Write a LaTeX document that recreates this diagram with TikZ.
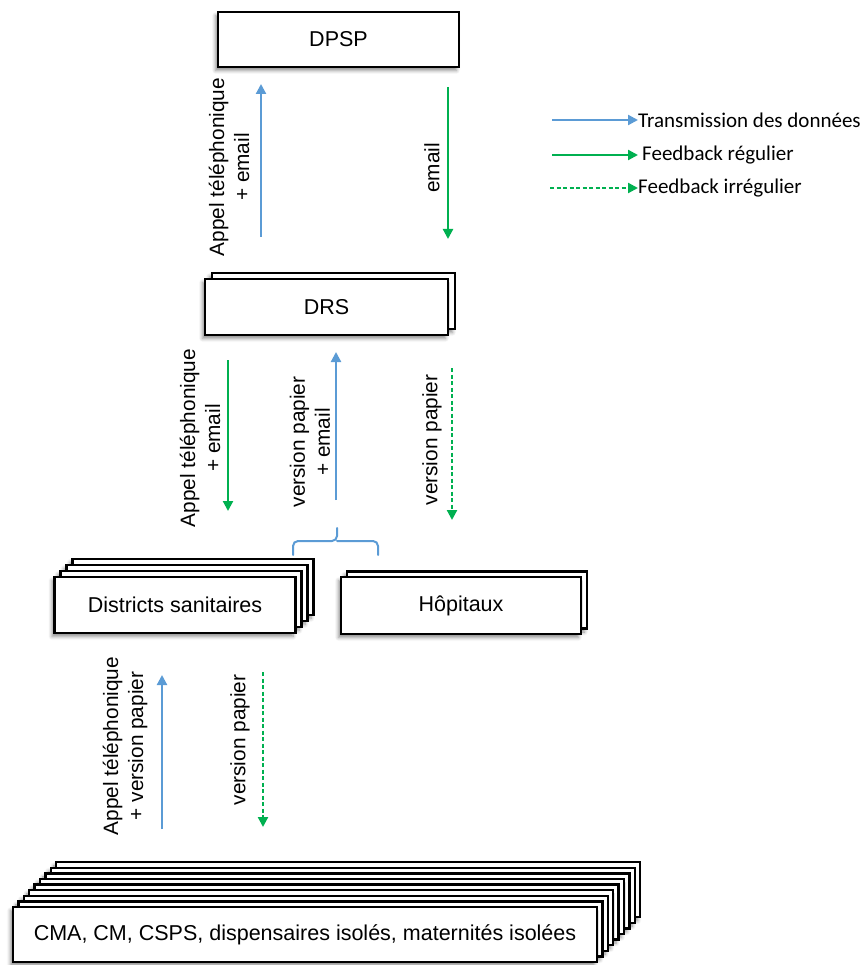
\documentclass[tikz,border=0pt]{standalone}
\usepackage{fontspec}
\setmainfont{Liberation Sans}
\newfontfamily\legendfont{Carlito}
\usetikzlibrary{arrows.meta,shadows.blur}

\definecolor{flowblue}{RGB}{91,155,213}
\definecolor{flowgreen}{RGB}{0,176,80}

\tikzset{
  box/.style={draw=black, line width=2.3pt, fill=white, inner sep=0pt,
    font=\fontsize{21.5}{24}\selectfont,
    blur shadow={shadow xshift=-2.5pt, shadow yshift=-3.5pt, shadow blur radius=3.5pt,
      shadow blur steps=6, shadow opacity=45}},
  lab/.style={rotate=90, align=center, inner sep=0pt, font=\fontsize{20.8}{25}\selectfont},
  data/.style={draw=flowblue, line width=2.2pt, -{Triangle[length=10pt,width=10pt]}},
  fbreg/.style={draw=flowgreen, line width=2.2pt, -{Triangle[length=10pt,width=10pt]}},
  fbirr/.style={draw=flowgreen, line width=2.2pt, dash pattern=on 4pt off 2.5pt,
    -{Triangle[length=10pt,width=10pt]}},
  legtext/.style={anchor=west, inner sep=0pt, font=\legendfont\fontsize{21}{24}\selectfont},
}

\begin{document}
\begin{tikzpicture}[x=1pt,y=-1pt]
\useasboundingbox (0,0) rectangle (867,965);

% ---- DPSP ----
\node[box, minimum width=241pt, minimum height=55pt] (dpsp) at (338.5,39.5) {DPSP};

% ---- DRS (two sheets) ----
\node[box, minimum width=243pt, minimum height=56pt] (drsback) at (333.5,301) {};
\node[box, minimum width=243pt, minimum height=56pt] (drs) at (326.5,307) {DRS};

% ---- Districts sanitaires (four sheets) ----
\foreach \i in {3,2,1}
  \node[box, minimum width=241pt, minimum height=56pt] (dsback\i) at ({175+6*\i},{605-6*\i}) {};
\node[box, minimum width=241pt, minimum height=56pt] (ds) at (175,605) {Districts sanitaires};

% ---- Hôpitaux (two sheets) ----
\node[box, minimum width=240pt, minimum height=57pt] (hopback) at (467,600) {};
\node[box, minimum width=240pt, minimum height=57pt] (hop) at (461,605.5) {Hôpitaux};

% ---- Health facilities (nine sheets) ----
\foreach \i in {8,7,...,1}
  \node[box, minimum width=584pt, minimum height=55pt] (cmaback\i) at ({305+5.4*\i},{934.5-5.6*\i}) {};
\node[box, minimum width=584pt, minimum height=55pt] (cma) at (305,934.5)
  {CMA, CM, CSPS, dispensaires isolés, maternités isolées};

% ---- DRS <-> DPSP ----
\coordinate (a1s) at (261,237);
\coordinate (a1e) at (261,84);
\draw[data] (a1s) -- (a1e);
\node[lab] (l1) at (229,167) {Appel téléphonique\\+ email};

\coordinate (a2s) at (448,87);
\coordinate (a2e) at (448,239);
\draw[fbreg] (a2s) -- (a2e);
\node[lab] (l2) at (432,168) {email};

% ---- Districts / Hôpitaux <-> DRS ----
\coordinate (a3s) at (228,360);
\coordinate (a3e) at (228,511);
\draw[fbreg] (a3s) -- (a3e);
\node[lab] (l3) at (200,438) {Appel téléphonique\\+ email};

\coordinate (a4s) at (336,500);
\coordinate (a4e) at (336,352);
\draw[data] (a4s) -- (a4e);
\node[lab] (l4) at (310,442) {version papier\\+ email};

\coordinate (a5s) at (452,368);
\coordinate (a5e) at (452,520);
\draw[fbirr] (a5s) -- (a5e);
\node[lab] (l5) at (432,440) {version papier};

% brace joining Districts sanitaires and Hôpitaux
\draw[flowblue, line width=2pt, line cap=round, rounded corners=5pt]
  (293,555) -- (293,541) -- (337,541) -- (337,528)
  (337,541) -- (378,541) -- (378,555);

% ---- Health facilities <-> Districts ----
\coordinate (a6s) at (162,829);
\coordinate (a6e) at (162,675);
\draw[data] (a6s) -- (a6e);
\node[lab] (l6) at (125,746) {Appel téléphonique\\+ version papier};

\coordinate (a7s) at (263,672);
\coordinate (a7e) at (263,827);
\draw[fbirr] (a7s) -- (a7e);
\node[lab] (l7) at (240,740) {version papier};

% ---- Legend ----
\node[legtext] (lg1) at (638,120) {Transmission des données};
\node[legtext] (lg2) at (642,155) {Feedback régulier};
\node[legtext] (lg3) at (638,188) {Feedback irrégulier};
\coordinate (lg1s) at (552,120);
\coordinate (lg2s) at (552,155);
\coordinate (lg3s) at (550,188);
\draw[data] (lg1s) -- (lg1.west);
\draw[fbreg] (lg2s) -- ([xshift=-4pt]lg2.west);
\draw[fbirr] (lg3s) -- (lg3.west);
\end{tikzpicture}
\end{document}
